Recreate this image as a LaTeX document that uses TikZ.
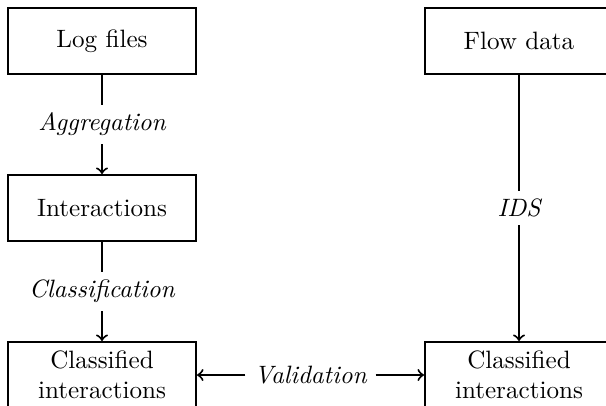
\documentclass[tikz,border=0pt]{standalone}
\begin{document}
\begin{tikzpicture}[
  box/.style={draw, thick, minimum width=2.632cm, minimum height=0.924cm, align=center},
  lbl/.style={fill=white, font=\itshape}]
  \useasboundingbox (0,0) rectangle (8.484,-5.684);

  % Left column
  \node[box] (logs) at (1.428,-0.574) {Log files};
  \node[box] (inter) at (1.428,-2.912) {Interactions};
  \node[box] (classout) at (1.428,-5.25) {Classified\\interactions};

  % Right column
  \node[box] (flow) at (7.266,-0.574) {Flow data};
  \node[box] (idsout) at (7.266,-5.25) {Classified\\interactions};

  % Processing steps
  \draw[thick,->] (logs) -- node[lbl] {Aggregation} (inter);
  \draw[thick,->] (inter) -- node[lbl] {Classification} (classout);
  \draw[thick,->] (flow) -- node[lbl] {IDS} (idsout);

  % Comparison of both results
  \node[font=\itshape] (valid) at (4.347,-5.25) {Validation};
  \draw[thick,->] (valid) -- (classout);
  \draw[thick,->] (valid) -- (idsout);
\end{tikzpicture}
\end{document}
